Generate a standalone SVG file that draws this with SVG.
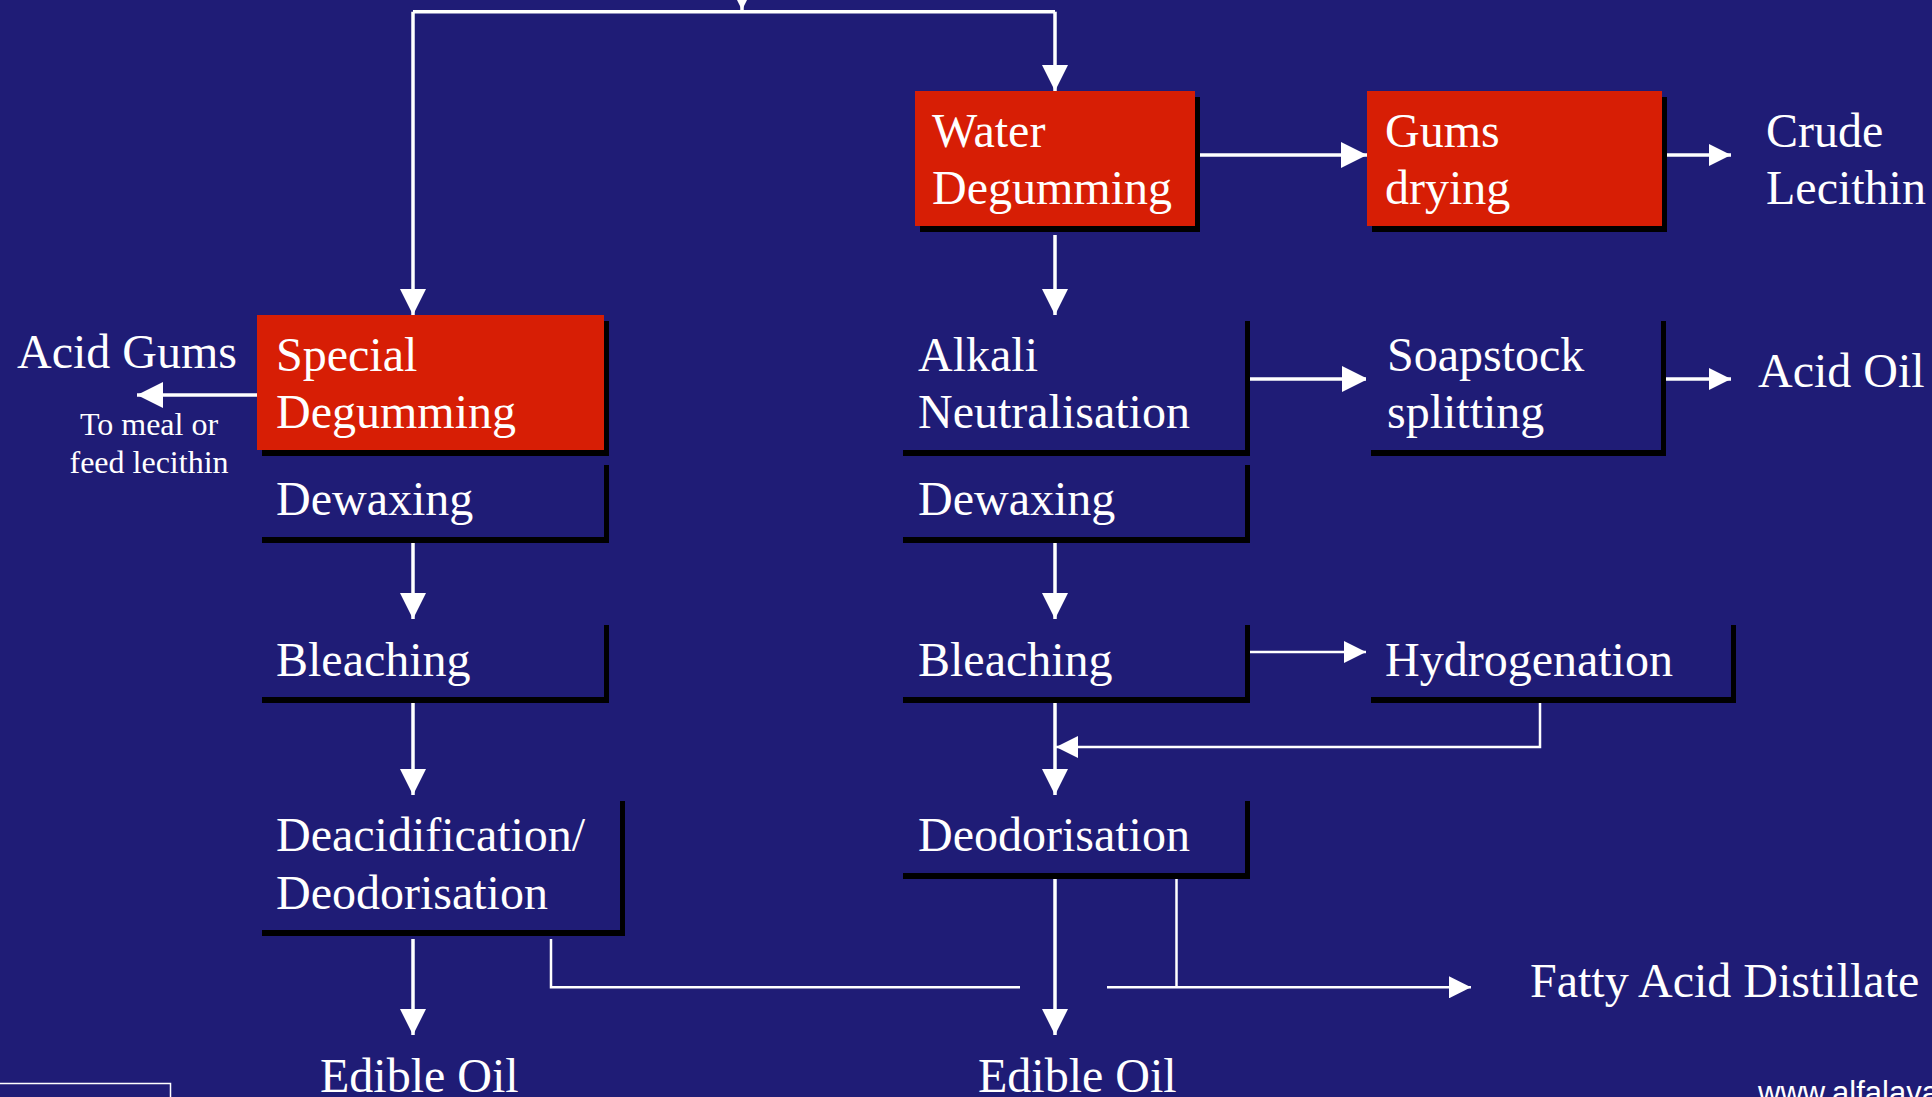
<svg xmlns="http://www.w3.org/2000/svg" width="1932" height="1097" viewBox="0 0 1932 1097">
<defs>
<style>
.t{font-family:"Liberation Serif","Times New Roman",serif;font-size:48px;fill:#fff}
.s{font-family:"Liberation Serif","Times New Roman",serif;font-size:32px;fill:#fff;text-anchor:middle}
.u{font-family:"Liberation Sans",Arial,sans-serif;font-size:31px;fill:#fff}
.red{fill:#D71E05}
.plain{fill:#1F1C76}
.sh{fill:#000}
.c{fill:none;stroke:#fff;stroke-width:3.5}
.c2{fill:none;stroke:#fff;stroke-width:2.5}
</style>
<marker id="ah" markerUnits="userSpaceOnUse" markerWidth="26" markerHeight="26" refX="26" refY="13" orient="auto" viewBox="0 0 26 26">
<path d="M0,0 L26,13 L0,26 z" fill="#fff"/>
</marker>
<marker id="as" markerUnits="userSpaceOnUse" markerWidth="22" markerHeight="22" refX="22" refY="11" orient="auto" viewBox="0 0 22 22">
<path d="M0,0 L22,11 L0,22 z" fill="#fff"/>
</marker>
</defs>
<rect x="0" y="0" width="1932" height="1097" fill="#1F1C76"/>

<g id="connectors">
<path class="c" d="M742,-30 L742,10" marker-end="url(#ah)"/>
<path class="c" d="M413,11.7 L1055,11.7"/>
<path class="c" d="M413,11.7 L413,315" marker-end="url(#ah)"/>
<path class="c" d="M1055,11.7 L1055,91" marker-end="url(#ah)"/>
<path class="c" d="M1200,155 L1367,155" marker-end="url(#ah)"/>
<path class="c" d="M1667,155 L1731,155" marker-end="url(#as)"/>
<path class="c" d="M1055,235 L1055,315" marker-end="url(#ah)"/>
<path class="c" d="M257,395 L137,395" marker-end="url(#ah)"/>
<path class="c" d="M1250,379 L1368,379" marker-end="url(#ah)"/>
<path class="c" d="M1666,379 L1731,379" marker-end="url(#as)"/>
<path class="c" d="M413,543 L413,619" marker-end="url(#ah)"/>
<path class="c" d="M1055,543 L1055,619" marker-end="url(#ah)"/>
<path class="c" d="M413,699 L413,795" marker-end="url(#ah)"/>
<path class="c" d="M1055,699 L1055,795" marker-end="url(#ah)"/>
<path class="c2" d="M1250,652 L1366,652" marker-end="url(#as)"/>
<path class="c2" d="M1540,699 L1540,747 L1056,747" marker-end="url(#as)"/>
<path class="c" d="M413,939 L413,1035" marker-end="url(#ah)"/>
<path class="c" d="M1055,875 L1055,1035" marker-end="url(#ah)"/>
<path class="c2" d="M551,939 L551,987.3 L1020,987.3"/>
<path class="c2" d="M1176.5,875 L1176.5,987.3"/>
<path class="c2" d="M1107,987.3 L1471,987.3" marker-end="url(#as)"/>
</g>

<g id="water-degumming">
<rect class="sh" x="920" y="97" width="280" height="135"/>
<rect class="red" x="915" y="91" width="280" height="135"/>
<text class="t" x="932" y="147">Water</text>
<text class="t" x="932" y="204">Degumming</text>
</g>
<g id="gums-drying">
<rect class="sh" x="1372" y="97" width="295" height="135"/>
<rect class="red" x="1367" y="91" width="295" height="135"/>
<text class="t" x="1385" y="147">Gums</text>
<text class="t" x="1385" y="204">drying</text>
</g>
<g id="crude-lecithin">
<text class="t" x="1766" y="147">Crude</text>
<text class="t" x="1766" y="204">Lecithin</text>
</g>
<g id="special-degumming">
<rect class="sh" x="262" y="321" width="347" height="135"/>
<rect class="red" x="257" y="315" width="347" height="135"/>
<text class="t" x="276" y="371">Special</text>
<text class="t" x="276" y="428">Degumming</text>
</g>
<g id="acid-gums">
<text class="t" x="17" y="368">Acid Gums</text>
<text class="s" x="149" y="435">To meal or</text>
<text class="s" x="149" y="473">feed lecithin</text>
</g>
<g id="dewaxing-left">
<rect class="sh" x="262" y="465" width="347" height="78"/>
<rect class="plain" x="257" y="459" width="347" height="78"/>
<text class="t" x="276" y="515">Dewaxing</text>
</g>
<g id="bleaching-left">
<rect class="sh" x="262" y="625" width="347" height="78"/>
<rect class="plain" x="257" y="619" width="347" height="78"/>
<text class="t" x="276" y="676">Bleaching</text>
</g>
<g id="deacidification-deodorisation">
<rect class="sh" x="262" y="801" width="363" height="135"/>
<rect class="plain" x="257" y="795" width="363" height="135"/>
<text class="t" x="276" y="851">Deacidification/</text>
<text class="t" x="276" y="909">Deodorisation</text>
</g>
<g id="edible-oil-left">
<text class="t" x="320" y="1092">Edible Oil</text>
</g>
<g id="alkali-neutralisation">
<rect class="sh" x="903" y="321" width="347" height="135"/>
<rect class="plain" x="898" y="315" width="347" height="135"/>
<text class="t" x="918" y="371">Alkali</text>
<text class="t" x="918" y="428">Neutralisation</text>
</g>
<g id="soapstock-splitting">
<rect class="sh" x="1371" y="321" width="295" height="135"/>
<rect class="plain" x="1366" y="315" width="295" height="135"/>
<text class="t" x="1387" y="371">Soapstock</text>
<text class="t" x="1387" y="428">splitting</text>
</g>
<g id="acid-oil">
<text class="t" x="1758" y="387">Acid Oil</text>
</g>
<g id="dewaxing-right">
<rect class="sh" x="903" y="465" width="347" height="78"/>
<rect class="plain" x="898" y="459" width="347" height="78"/>
<text class="t" x="918" y="515">Dewaxing</text>
</g>
<g id="bleaching-right">
<rect class="sh" x="903" y="625" width="347" height="78"/>
<rect class="plain" x="898" y="619" width="347" height="78"/>
<text class="t" x="918" y="676">Bleaching</text>
</g>
<g id="hydrogenation">
<rect class="sh" x="1371" y="625" width="365" height="78"/>
<rect class="plain" x="1366" y="619" width="365" height="78"/>
<text class="t" x="1385" y="676">Hydrogenation</text>
</g>
<g id="deodorisation">
<rect class="sh" x="903" y="801" width="347" height="78"/>
<rect class="plain" x="898" y="795" width="347" height="78"/>
<text class="t" x="918" y="851">Deodorisation</text>
</g>
<g id="fatty-acid-distillate">
<text class="t" x="1530" y="997">Fatty Acid Distillate</text>
</g>
<g id="edible-oil-right">
<text class="t" x="978" y="1092">Edible Oil</text>
</g>
<g id="footer">
<path d="M0,1083.5 L170.5,1083.5 L170.5,1097" fill="none" stroke="#fff" stroke-width="1.5"/>
<text class="u" x="1758" y="1103">www.alfalaval.com</text>
</g>
</svg>
